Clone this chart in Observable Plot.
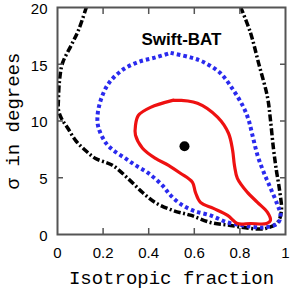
<!DOCTYPE html>
<html>
<head>
<meta charset="utf-8">
<script src="https://cdn.jsdelivr.net/npm/d3@7"></script>
<script src="https://cdn.jsdelivr.net/npm/@observablehq/plot@0.6"></script>
<style>
  html, body { margin: 0; padding: 0; background: #fff; }
</style>
</head>
<body>
<div id="chart"></div>
<script>
// Contour levels (isotropic fraction, sigma in degrees)
const outerX = [0.127, 0.092, 0.061, 0.022, 0.009, 0.004, 0.004, 0.018, 0.044, 0.079, 0.123, 0.167, 0.241, 0.311, 0.373, 0.43, 0.509, 0.583, 0.671, 0.759, 0.846, 0.912, 0.965, 0.982, 0.974, 0.96, 0.947, 0.934, 0.921, 0.882, 0.846, 0.803];
const outerY = [20.05, 18.0, 16.7, 15.1, 13.6, 11.8, 11.0, 10.2, 9.4, 8.3, 7.4, 6.7, 6.1, 4.9, 3.7, 2.8, 2.1, 1.7, 1.06, 0.8, 0.53, 0.53, 1.06, 2.1, 3.9, 5.65, 7.6, 10.1, 12.1, 15.1, 17.8, 20.05];

const midX = [0.496, 0.583, 0.640, 0.715, 0.772, 0.816, 0.838, 0.855, 0.877, 0.904, 0.934, 0.965, 0.978, 0.965, 0.904, 0.816, 0.746, 0.671, 0.596, 0.539, 0.496, 0.461, 0.399, 0.342, 0.298, 0.246, 0.211, 0.18, 0.175, 0.189, 0.224, 0.285, 0.355, 0.43, 0.496];
const midY = [16.0, 15.6, 15.2, 14.2, 12.7, 11.2, 10.1, 8.75, 7.0, 5.5, 4.1, 2.6, 1.7, 0.97, 0.62, 0.8, 1.06, 1.68, 2.1, 2.7, 3.45, 4.3, 5.4, 6.1, 6.7, 7.4, 8.1, 9.4, 10.3, 11.8, 13.3, 14.5, 15.2, 15.6, 16.0];

const innerX = [0.509, 0.614, 0.702, 0.75, 0.768, 0.776, 0.789, 0.833, 0.877, 0.921, 0.934, 0.917, 0.846, 0.789, 0.746, 0.684, 0.627, 0.605, 0.592, 0.539, 0.487, 0.43, 0.373, 0.342, 0.342, 0.355, 0.408, 0.509];
const innerY = [11.84, 11.57, 10.34, 8.92, 7.42, 6.1, 4.95, 3.71, 2.83, 1.94, 1.24, 0.97, 0.97, 0.97, 1.68, 2.3, 2.83, 3.71, 4.6, 5.4, 6.1, 6.7, 7.6, 8.75, 9.6, 10.5, 11.2, 11.84];

const bestFit = [{x: 0.557, y: 7.77}];

const xTicks = [0, 0.2, 0.4, 0.6, 0.8, 1];
const yTicks = [0, 5, 10, 15, 20];
const xInnerTicks = [0.2, 0.4, 0.6, 0.8];
const yInnerTicks = [5, 10, 15];
const xLabel = "Isotropic fraction";
const yLabel = "σ in degrees";
const title = "Swift-BAT";

const toRows = (xs, ys) => xs.map((x, i) => ({x, y: ys[i]}));
const frameColor = "#555";
const mono = "'Liberation Mono', 'DejaVu Sans Mono', monospace";

const chart = Plot.plot({
  width: 291,
  height: 289,
  marginLeft: 57,
  marginRight: 6,
  marginTop: 7,
  marginBottom: 55,
  style: {fontFamily: "'Liberation Sans', Arial, sans-serif", fontSize: "15px", color: "#000", background: "#fff"},
  x: {domain: [0, 1]},
  y: {domain: [0, 20]},
  marks: [
    Plot.line(toRows(outerX, outerY), {x: "x", y: "y", stroke: "#000", strokeWidth: 3.5, strokeDasharray: "7,2.5,2,2.5", strokeLinecap: "butt", clip: true, curve: "catmull-rom"}),
    Plot.line(toRows(midX, midY), {x: "x", y: "y", stroke: "#2a2aee", strokeWidth: 4, strokeDasharray: "3.5,3", strokeLinecap: "butt", clip: true, curve: "catmull-rom"}),
    Plot.line(toRows(innerX, innerY), {x: "x", y: "y", stroke: "#ee1111", strokeWidth: 3.2, clip: true, curve: "catmull-rom"}),
    Plot.dot(bestFit, {x: "x", y: "y", r: 5, fill: "#000"}),
    Plot.text([title], {frameAnchor: "top", dx: 10, dy: 25, fontWeight: "bold", fontSize: 17, fill: "#000"}),
    Plot.axisX({ticks: xTicks, tickSize: 0, tickPadding: 13, tickFormat: d => String(d), fontSize: 15, label: null}),
    Plot.axisY({ticks: yTicks, tickSize: 0, tickPadding: 10, dy: 1.5, tickFormat: d => String(d), fontSize: 15, label: null}),
    Plot.axisX({ticks: xInnerTicks, tickSize: -6, stroke: frameColor, strokeWidth: 1.5, tickFormat: () => "", label: null}),
    Plot.axisX({anchor: "top", ticks: xInnerTicks, tickSize: -6, stroke: frameColor, strokeWidth: 1.5, tickFormat: () => "", label: null}),
    Plot.axisY({ticks: yInnerTicks, tickSize: -6, stroke: frameColor, strokeWidth: 1.5, tickFormat: () => "", label: null}),
    Plot.axisY({anchor: "right", ticks: yInnerTicks, tickSize: -6, stroke: frameColor, strokeWidth: 1.5, tickFormat: () => "", label: null}),
    Plot.frame({stroke: frameColor, strokeWidth: 2}),
    Plot.text([xLabel], {frameAnchor: "bottom", dy: 43, lineAnchor: "middle", textAnchor: "middle", fontFamily: mono, fontSize: 19, fill: "#000"}),
    Plot.text([yLabel], {frameAnchor: "left", dx: -45, rotate: -90, lineAnchor: "middle", textAnchor: "middle", fontFamily: mono, fontSize: 19, fill: "#000"})
  ]
});
document.getElementById("chart").appendChild(chart);
</script>
</body>
</html>
